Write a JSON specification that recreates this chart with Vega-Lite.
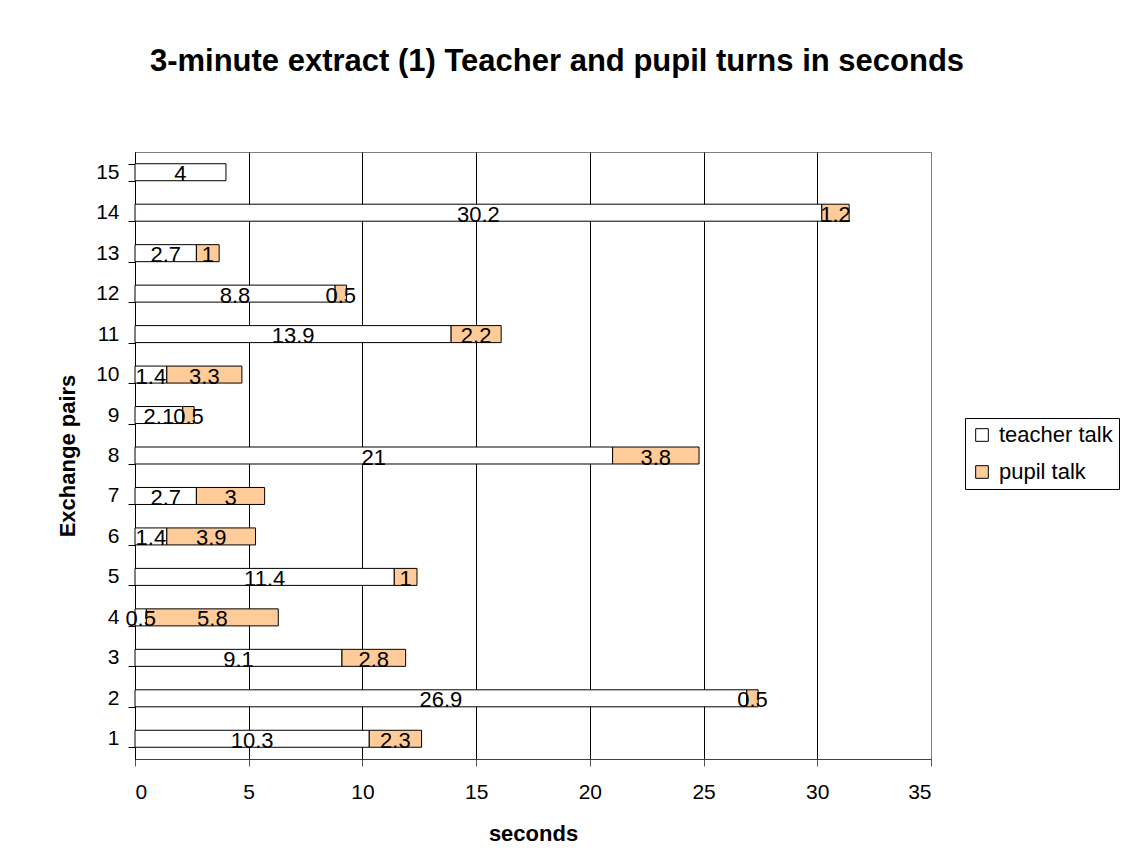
{
  "$schema": "https://vega.github.io/schema/vega-lite/v6.json",
  "width": 796,
  "height": 607,
  "autosize": {"type": "pad"},
  "padding": {"left": 56, "top": 46, "right": 0, "bottom": 0},
  "background": "white",
  "config": {
    "font": "Liberation Sans",
    "view": {"stroke": "#808080", "strokeWidth": 1}
  },
  "title": {
    "text": "3-minute extract (1) Teacher and pupil turns in seconds",
    "font": "Liberation Sans",
    "fontSize": 31,
    "fontWeight": "bold",
    "color": "black",
    "anchor": "middle",
    "dx": 24,
    "offset": 63
  },
  "data": {
    "values": [
      {"pair": 1, "type": "teacher talk", "seconds": 10.3},
      {"pair": 1, "type": "pupil talk", "seconds": 2.3},
      {"pair": 2, "type": "teacher talk", "seconds": 26.9},
      {"pair": 2, "type": "pupil talk", "seconds": 0.5},
      {"pair": 3, "type": "teacher talk", "seconds": 9.1},
      {"pair": 3, "type": "pupil talk", "seconds": 2.8},
      {"pair": 4, "type": "teacher talk", "seconds": 0.5},
      {"pair": 4, "type": "pupil talk", "seconds": 5.8},
      {"pair": 5, "type": "teacher talk", "seconds": 11.4},
      {"pair": 5, "type": "pupil talk", "seconds": 1},
      {"pair": 6, "type": "teacher talk", "seconds": 1.4},
      {"pair": 6, "type": "pupil talk", "seconds": 3.9},
      {"pair": 7, "type": "teacher talk", "seconds": 2.7},
      {"pair": 7, "type": "pupil talk", "seconds": 3},
      {"pair": 8, "type": "teacher talk", "seconds": 21},
      {"pair": 8, "type": "pupil talk", "seconds": 3.8},
      {"pair": 9, "type": "teacher talk", "seconds": 2.1},
      {"pair": 9, "type": "pupil talk", "seconds": 0.5},
      {"pair": 10, "type": "teacher talk", "seconds": 1.4},
      {"pair": 10, "type": "pupil talk", "seconds": 3.3},
      {"pair": 11, "type": "teacher talk", "seconds": 13.9},
      {"pair": 11, "type": "pupil talk", "seconds": 2.2},
      {"pair": 12, "type": "teacher talk", "seconds": 8.8},
      {"pair": 12, "type": "pupil talk", "seconds": 0.5},
      {"pair": 13, "type": "teacher talk", "seconds": 2.7},
      {"pair": 13, "type": "pupil talk", "seconds": 1},
      {"pair": 14, "type": "teacher talk", "seconds": 30.2},
      {"pair": 14, "type": "pupil talk", "seconds": 1.2},
      {"pair": 15, "type": "teacher talk", "seconds": 4}
    ]
  },
  "transform": [
    {"stack": "seconds", "groupby": ["pair"], "sort": [{"field": "type", "order": "descending"}], "as": ["x0", "x1"]},
    {"calculate": "(datum.x0 + datum.x1) / 2", "as": "xm"}
  ],
  "encoding": {
    "y": {
      "field": "pair",
      "type": "ordinal",
      "sort": "descending",
      "scale": {"paddingInner": 0.58, "paddingOuter": 0.29},
      "axis": {
        "title": "Exchange pairs",
        "titleFont": "Liberation Sans",
        "titleFontSize": 22,
        "titleFontWeight": "bold",
        "titleColor": "black",
        "titlePadding": 16,
        "labelFont": "Liberation Sans",
        "labelFontSize": 21,
        "labelColor": "black",
        "labelPadding": 9,
        "labelAngle": 0,
        "tickBand": "extent",
        "tickSize": 7,
        "tickColor": "black",
        "domainColor": "black",
        "grid": false
      }
    }
  },
  "layer": [
    {
      "mark": {"type": "bar", "stroke": "black", "strokeWidth": 1},
      "encoding": {
        "x": {
          "field": "x0",
          "type": "quantitative",
          "scale": {"domain": [0, 35], "nice": false},
          "axis": {
            "title": "seconds",
            "titleFont": "Liberation Sans",
            "titleFontSize": 22,
            "titleFontWeight": "bold",
            "titleColor": "black",
            "titlePadding": 21,
            "labelFont": "Liberation Sans",
            "labelFontSize": 21,
            "labelColor": "black",
            "labelPadding": 15,
            "values": [0, 5, 10, 15, 20, 25, 30, 35],
            "tickSize": 7,
            "tickColor": "#555555",
            "domainColor": "#404040",
            "grid": true,
            "gridColor": {"condition": {"test": "datum.value === 35", "value": "#808080"}, "value": "black"},
            "gridOpacity": 1,
            "gridWidth": 1
          }
        },
        "x2": {"field": "x1"},
        "fill": {
          "field": "type",
          "type": "nominal",
          "scale": {"domain": ["teacher talk", "pupil talk"], "range": ["#FFFFFF", "#FFCC99"]},
          "legend": {
            "title": null,
            "orient": "none",
            "legendX": 830,
            "legendY": 266,
            "strokeColor": "black",
            "fillColor": "white",
            "padding": 6,
            "symbolType": "square",
            "symbolSize": 160,
            "symbolStrokeColor": "black",
            "symbolStrokeWidth": 1,
            "labelFont": "Liberation Sans",
            "labelFontSize": 22,
            "labelColor": "black",
            "labelOffset": 6,
            "rowPadding": 15
          }
        }
      }
    },
    {
      "mark": {"type": "text", "font": "Liberation Sans", "fontSize": 22, "color": "black", "align": "center", "baseline": "middle", "dy": 2},
      "encoding": {
        "x": {"field": "xm", "type": "quantitative"},
        "text": {"field": "seconds", "type": "quantitative"}
      }
    }
  ]
}
